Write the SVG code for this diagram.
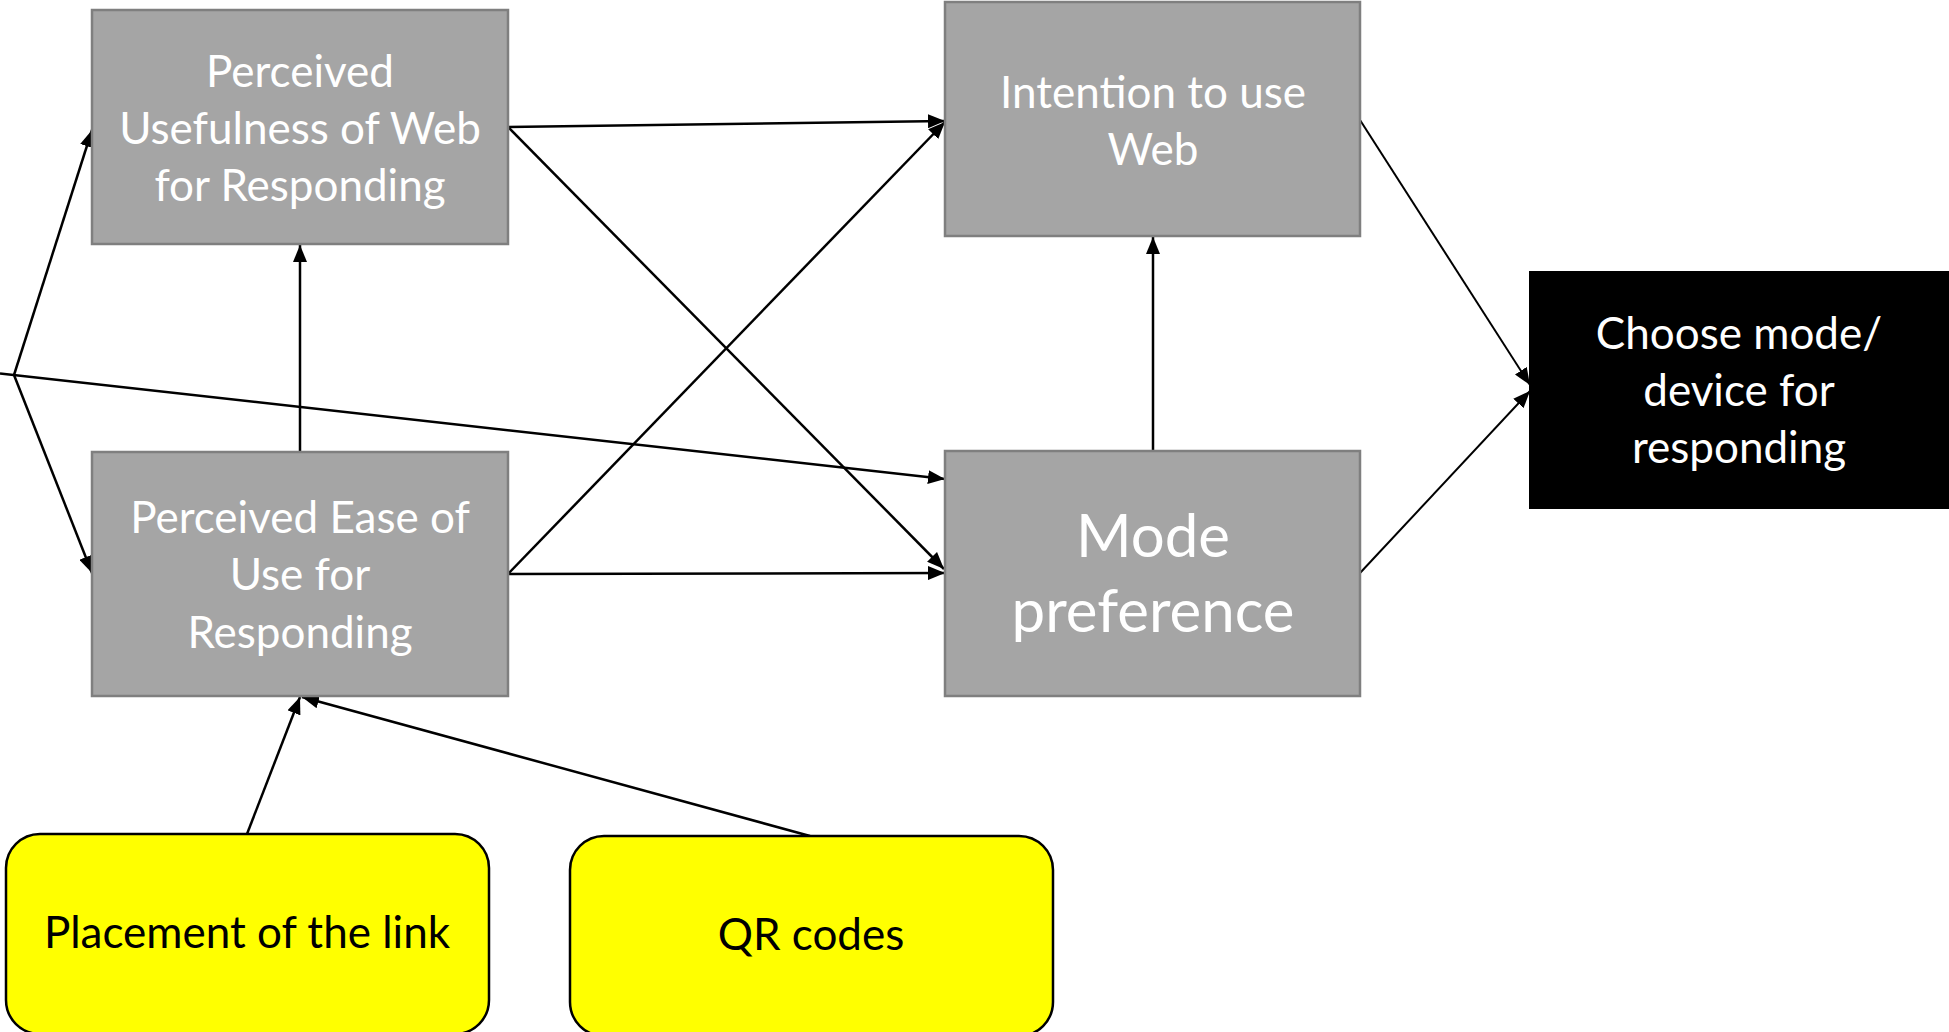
<svg xmlns="http://www.w3.org/2000/svg" width="1949" height="1032" viewBox="0 0 1949 1032">
  <style>
    .box { fill: #A5A5A5; stroke: #7F7F7F; stroke-width: 2.5; }
    .out { fill: #000000; stroke: #000000; stroke-width: 2; }
    .ext { fill: #FFFF00; stroke: #000000; stroke-width: 2.5; }
    .lbl { font-family: Lato, "Open Sans", "Liberation Sans", sans-serif; font-size: 44px; fill: #FFFFFF; text-anchor: middle; }
    .big { font-size: 60px; }
    .dark { fill: #000000; }
    .edge { fill: none; stroke: #000000; stroke-width: 2.5; }
    .thin { stroke-width: 2; }
  </style>
  <defs>
    <marker id="arrow" viewBox="0 0 17 14" refX="17" refY="7" markerWidth="17" markerHeight="14" markerUnits="userSpaceOnUse" orient="auto">
      <path d="M0,0 L17,7 L0,14 z" fill="#000000"/>
    </marker>
  </defs>

  <g id="connectors">
    <!-- shared fan-out point on the left edge -->
    <line class="edge" x1="14" y1="375" x2="92" y2="130" marker-end="url(#arrow)"/>
    <line class="edge" x1="14" y1="375" x2="92" y2="573" marker-end="url(#arrow)"/>
    <line class="edge" x1="0" y1="373.5" x2="945" y2="479" marker-end="url(#arrow)"/>
    <!-- ease of use -> usefulness -->
    <line class="edge" x1="300" y1="452" x2="300" y2="245" marker-end="url(#arrow)"/>
    <!-- usefulness -> intention / mode preference -->
    <line class="edge" x1="508" y1="127" x2="945" y2="121" marker-end="url(#arrow)"/>
    <line class="edge" x1="508" y1="127" x2="944" y2="569" marker-end="url(#arrow)"/>
    <!-- ease of use -> intention / mode preference -->
    <line class="edge" x1="508" y1="574" x2="945" y2="122" marker-end="url(#arrow)"/>
    <line class="edge" x1="508" y1="574" x2="945" y2="573" marker-end="url(#arrow)"/>
    <!-- mode preference -> intention -->
    <line class="edge" x1="1153" y1="451" x2="1153" y2="237" marker-end="url(#arrow)"/>
    <!-- into the outcome -->
    <line class="edge thin" x1="1360" y1="120" x2="1530" y2="385" marker-end="url(#arrow)"/>
    <line class="edge thin" x1="1360" y1="573" x2="1530" y2="391" marker-end="url(#arrow)"/>
    <!-- external factors -> ease of use -->
    <line class="edge" x1="247" y1="834" x2="300" y2="697" marker-end="url(#arrow)"/>
    <line class="edge" x1="810" y1="836" x2="302" y2="697" marker-end="url(#arrow)"/>
  </g>

  <g id="usefulness">
    <rect class="box" x="92" y="10" width="416" height="234"/>
    <text class="lbl" x="300" y="87">Perceived</text>
    <text class="lbl" x="300" y="144">Usefulness of Web</text>
    <text class="lbl" x="300" y="201">for Responding</text>
  </g>

  <g id="ease-of-use">
    <rect class="box" x="92" y="452" width="416" height="244"/>
    <text class="lbl" x="300" y="533">Perceived Ease of</text>
    <text class="lbl" x="300" y="590">Use for</text>
    <text class="lbl" x="300" y="648">Responding</text>
  </g>

  <g id="intention">
    <rect class="box" x="945" y="2" width="415" height="234"/>
    <text class="lbl" x="1153" y="108">Intention to use</text>
    <text class="lbl" x="1153" y="165">Web</text>
  </g>

  <g id="mode-preference">
    <rect class="box" x="945" y="451" width="415" height="245"/>
    <text class="lbl big" x="1153" y="557">Mode</text>
    <text class="lbl big" x="1153" y="632">preference</text>
  </g>

  <g id="choice">
    <rect class="out" x="1530" y="272" width="418" height="236"/>
    <text class="lbl" x="1739" y="349">Choose mode/</text>
    <text class="lbl" x="1739" y="406">device for</text>
    <text class="lbl" x="1739" y="463">responding</text>
  </g>

  <g id="link-placement">
    <rect class="ext" x="6" y="834" width="483" height="200" rx="34" ry="34"/>
    <text class="lbl dark" x="247" y="948">Placement of the link</text>
  </g>

  <g id="qr-codes">
    <rect class="ext" x="570" y="836" width="483" height="200" rx="34" ry="34"/>
    <text class="lbl dark" x="811" y="950">QR codes</text>
  </g>
</svg>
